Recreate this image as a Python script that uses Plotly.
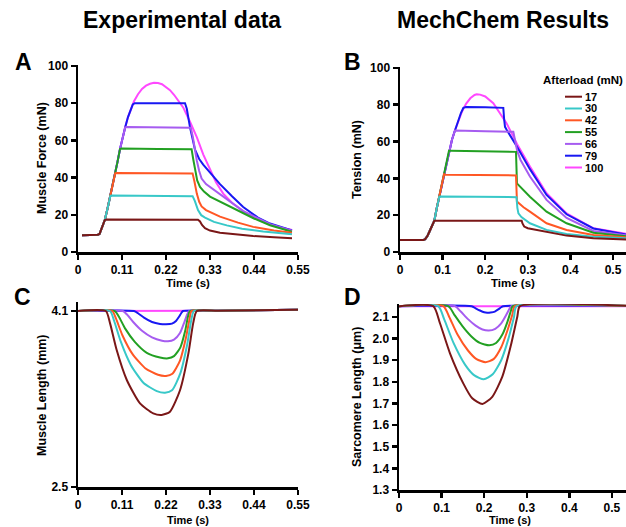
import plotly.graph_objects as go

W, H = 626, 527
FONT = "Liberation Sans, Arial, Helvetica, sans-serif"

AFTERLOADS = ["17", "30", "42", "55", "66", "79", "100"]
COLORS = ["#7a1717", "#38c8c8", "#ff5724", "#22a022", "#a65cf0", "#1818f2", "#ff48ff"]

# ---------------- Panel A: experimental muscle force (mN) ----------------
A_17_t = [0.01, 0.03, 0.05, 0.054, 0.058, 0.062, 0.067, 0.071, 0.15, 0.25, 0.300, 0.305, 0.31, 0.3175, 0.33, 0.355, 0.40, 0.438, 0.49, 0.535]
A_17_y = [9.0, 9.0, 9.3, 9.8, 12.0, 14.5, 17.2, 17.4, 17.4, 17.4, 17.3, 16.4, 14.5, 12.8, 11.5, 10.3, 9.2, 8.6, 7.9, 7.4]
A_30_t = [0.01, 0.03, 0.05, 0.054, 0.058, 0.062, 0.067, 0.074, 0.081, 0.085, 0.2, 0.2865, 0.292, 0.3, 0.308, 0.3175, 0.34, 0.372, 0.41, 0.463, 0.535]
A_30_y = [9.0, 9.0, 9.3, 9.8, 12.0, 14.5, 17.2, 23.5, 30.2, 30.4, 30.3, 30.0, 27.5, 22.5, 19.8, 18.5, 16.2, 14.3, 12.5, 11.0, 9.5]
A_42_t = [0.01, 0.03, 0.05, 0.054, 0.058, 0.062, 0.067, 0.074, 0.081, 0.087, 0.093, 0.097, 0.2, 0.2865, 0.291, 0.297, 0.303, 0.309, 0.32, 0.355, 0.40, 0.438, 0.49, 0.535]
A_42_y = [9.0, 9.0, 9.3, 9.8, 12.0, 14.5, 17.2, 23.5, 30.2, 36.2, 42.3, 42.5, 42.4, 42.2, 38.0, 31.4, 27.0, 24.5, 22.5, 19.0, 15.8, 13.5, 11.6, 10.3]
A_55_t = [0.01, 0.03, 0.05, 0.054, 0.058, 0.062, 0.067, 0.074, 0.081, 0.087, 0.093, 0.099, 0.105, 0.109, 0.2, 0.284, 0.288, 0.2925, 0.298, 0.305, 0.315, 0.33, 0.36, 0.397, 0.44, 0.48, 0.535]
A_55_y = [9.0, 9.0, 9.3, 9.8, 12.0, 14.5, 17.2, 23.5, 30.2, 36.2, 42.3, 48.7, 55.3, 55.6, 55.4, 55.2, 50.0, 44.0, 38.5, 35.0, 32.5, 29.8, 26.5, 22.5, 18.0, 14.4, 10.9]
A_66_t = [0.01, 0.03, 0.05, 0.054, 0.058, 0.062, 0.067, 0.074, 0.081, 0.087, 0.093, 0.099, 0.105, 0.111, 0.118, 0.123, 0.2, 0.282, 0.287, 0.292, 0.297, 0.303, 0.309, 0.32, 0.355, 0.413, 0.48, 0.535]
A_66_y = [9.0, 9.0, 9.3, 9.8, 12.0, 14.5, 17.2, 23.5, 30.2, 36.2, 42.3, 48.7, 55.3, 61.3, 67.0, 67.2, 67.0, 66.8, 62.0, 55.0, 49.2, 43.5, 39.5, 36.5, 31.0, 22.0, 15.0, 11.4]
A_79_t = [0.01, 0.03, 0.05, 0.054, 0.058, 0.062, 0.067, 0.074, 0.081, 0.087, 0.093, 0.099, 0.105, 0.111, 0.118, 0.125, 0.132, 0.137, 0.142, 0.2, 0.2675, 0.272, 0.28, 0.2925, 0.303, 0.313, 0.33, 0.355, 0.385, 0.413, 0.45, 0.48, 0.535]
A_79_y = [9.0, 9.0, 9.3, 9.8, 12.0, 14.5, 17.2, 23.5, 30.2, 36.2, 42.3, 48.7, 55.3, 61.3, 67.0, 72.5, 77.0, 79.3, 80.0, 80.0, 80.0, 77.0, 67.0, 55.0, 50.0, 47.0, 42.5, 36.5, 30.0, 24.2, 18.5, 15.3, 11.6]
A_100_t = [0.01, 0.03, 0.05, 0.054, 0.058, 0.062, 0.067, 0.074, 0.081, 0.087, 0.093, 0.099, 0.105, 0.111, 0.118, 0.125, 0.132, 0.14, 0.15, 0.16, 0.17, 0.18, 0.19, 0.2, 0.21, 0.22, 0.23, 0.24, 0.25, 0.263, 0.28, 0.297, 0.313, 0.33, 0.345, 0.363, 0.385, 0.413, 0.44, 0.463, 0.5, 0.535]
A_100_y = [9.0, 9.0, 9.3, 9.8, 12.0, 14.5, 17.2, 23.5, 30.2, 36.2, 42.3, 48.7, 55.3, 61.3, 67.0, 72.5, 77.0, 81.0, 84.8, 87.6, 89.4, 90.4, 90.9, 90.8, 90.2, 88.8, 87.0, 84.5, 81.5, 77.7, 70.0, 61.7, 52.5, 44.0, 37.5, 31.4, 26.5, 22.0, 18.8, 16.2, 13.5, 11.8]

# ---------------- Panel B: MechChem tension (mN) ----------------
B_17_t = [0, 0.03, 0.055, 0.059, 0.064, 0.069, 0.075, 0.0806, 0.084, 0.2, 0.2856, 0.2875, 0.2915, 0.3, 0.344, 0.391, 0.454, 0.532]
B_17_y = [6.5, 6.5, 6.5, 7.0, 8.5, 11.0, 14.0, 17.0, 17.0, 17.0, 17.0, 15.5, 13.8, 12.9, 10.9, 8.9, 7.5, 6.8]
B_30_t = [0, 0.03, 0.055, 0.059, 0.064, 0.069, 0.075, 0.0806, 0.086, 0.0923, 0.096, 0.2, 0.2735, 0.2755, 0.278, 0.285, 0.305, 0.344, 0.391, 0.454, 0.532]
B_30_y = [6.5, 6.5, 6.5, 7.0, 8.5, 11.0, 14.0, 17.0, 23.5, 30.0, 30.1, 29.9, 29.8, 24.0, 21.0, 19.0, 15.6, 12.0, 9.8, 8.3, 7.5]
B_42_t = [0, 0.03, 0.055, 0.059, 0.064, 0.069, 0.075, 0.0806, 0.086, 0.0923, 0.098, 0.1033, 0.107, 0.2, 0.2723, 0.2745, 0.29, 0.305, 0.344, 0.391, 0.454, 0.532]
B_42_y = [6.5, 6.5, 6.5, 7.0, 8.5, 11.0, 14.0, 17.0, 23.5, 30.0, 36.0, 42.2, 42.0, 41.7, 41.6, 27.4, 24.3, 21.9, 15.6, 12.0, 9.2, 8.0]
B_55_t = [0, 0.03, 0.055, 0.059, 0.064, 0.069, 0.075, 0.0806, 0.086, 0.0923, 0.098, 0.1033, 0.109, 0.115, 0.119, 0.2, 0.2723, 0.2745, 0.29, 0.305, 0.344, 0.391, 0.454, 0.532]
B_55_y = [6.5, 6.5, 6.5, 7.0, 8.5, 11.0, 14.0, 17.0, 23.5, 30.0, 36.0, 42.2, 48.5, 55.0, 55.0, 54.6, 54.4, 37.3, 33.5, 30.0, 21.9, 15.6, 10.5, 8.5]
B_66_t = [0, 0.03, 0.055, 0.059, 0.064, 0.069, 0.075, 0.0806, 0.086, 0.0923, 0.098, 0.1033, 0.109, 0.115, 0.122, 0.129, 0.133, 0.2, 0.266, 0.27, 0.275, 0.283, 0.305, 0.344, 0.391, 0.454, 0.532]
B_66_y = [6.5, 6.5, 6.5, 7.0, 8.5, 11.0, 14.0, 17.0, 23.5, 30.0, 36.0, 42.2, 48.5, 55.0, 61.0, 66.0, 66.0, 65.6, 65.3, 61.0, 55.0, 50.0, 41.0, 28.3, 18.5, 11.4, 9.0]
B_79_t = [0, 0.03, 0.055, 0.059, 0.064, 0.069, 0.075, 0.0806, 0.086, 0.0923, 0.098, 0.1033, 0.109, 0.115, 0.122, 0.129, 0.137, 0.143, 0.1487, 0.155, 0.2, 0.2425, 0.2445, 0.2465, 0.25, 0.274, 0.305, 0.344, 0.391, 0.454, 0.532]
B_79_y = [6.5, 6.5, 6.5, 7.0, 8.5, 11.0, 14.0, 17.0, 23.5, 30.0, 36.0, 42.2, 48.5, 55.0, 61.0, 66.0, 71.5, 75.5, 78.3, 78.8, 78.6, 78.3, 72.0, 68.0, 66.5, 57.5, 45.0, 31.0, 20.5, 12.8, 9.5]
B_100_t = [0, 0.03, 0.055, 0.059, 0.064, 0.069, 0.075, 0.0806, 0.086, 0.0923, 0.098, 0.1033, 0.109, 0.115, 0.122, 0.129, 0.137, 0.145, 0.155, 0.165, 0.175, 0.18, 0.188, 0.2, 0.219, 0.235, 0.25, 0.274, 0.305, 0.344, 0.391, 0.454, 0.532]
B_100_y = [6.5, 6.5, 6.5, 7.0, 8.5, 11.0, 14.0, 17.0, 23.5, 30.0, 36.0, 42.2, 48.5, 55.0, 61.0, 66.0, 71.5, 76.0, 80.5, 83.5, 85.3, 85.7, 85.5, 84.5, 80.8, 75.5, 70.0, 59.0, 46.4, 31.9, 21.0, 12.9, 9.8]

# ---------------- Panel C: experimental muscle length (mm) ----------------
C_17_t = [0, 0.0695, 0.08, 0.0967, 0.122, 0.155, 0.188, 0.209, 0.23, 0.255, 0.276, 0.288, 0.297, 0.35, 0.55]
C_17_y = [4.1, 4.1, 3.99, 3.745, 3.473, 3.26, 3.17, 3.155, 3.185, 3.38, 3.715, 3.99, 4.1, 4.102, 4.112]
C_30_t = [0, 0.08, 0.09, 0.107, 0.132, 0.164, 0.197, 0.2175, 0.235, 0.256, 0.273, 0.283, 0.29, 0.35, 0.55]
C_30_y = [4.1, 4.1, 4.014, 3.821, 3.61, 3.446, 3.372, 3.357, 3.379, 3.535, 3.795, 4.014, 4.1, 4.102, 4.112]
C_42_t = [0, 0.0855, 0.095, 0.111, 0.136, 0.168, 0.2, 0.22, 0.236, 0.255, 0.27, 0.279, 0.284, 0.35, 0.55]
C_42_y = [4.1, 4.1, 4.03, 3.88, 3.71, 3.58, 3.52, 3.51, 3.53, 3.65, 3.86, 4.03, 4.1, 4.102, 4.112]
C_55_t = [0, 0.092, 0.102, 0.118, 0.142, 0.172, 0.205, 0.225, 0.24, 0.256, 0.268, 0.275, 0.28, 0.35, 0.55]
C_55_y = [4.1, 4.1, 4.05, 3.94, 3.82, 3.72, 3.678, 3.67, 3.69, 3.77, 3.92, 4.05, 4.1, 4.102, 4.112]
C_66_t = [0, 0.112, 0.122, 0.138, 0.16, 0.185, 0.21, 0.225, 0.24, 0.255, 0.266, 0.273, 0.278, 0.35, 0.55]
C_66_y = [4.1, 4.1, 4.07, 4.0, 3.92, 3.86, 3.83, 3.825, 3.84, 3.9, 4.0, 4.07, 4.1, 4.102, 4.112]
C_79_t = [0, 0.14, 0.15, 0.165, 0.185, 0.205, 0.22, 0.235, 0.245, 0.253, 0.258, 0.2625, 0.35, 0.55]
C_79_y = [4.1, 4.1, 4.08, 4.04, 4.0, 3.983, 3.98, 3.985, 4.01, 4.05, 4.08, 4.1, 4.102, 4.112]
C_100_t = [0, 0.35, 0.55]
C_100_y = [4.1, 4.102, 4.112]

# ---------------- Panel D: MechChem sarcomere length (um) ----------------
D_17_t = [0, 0.0805, 0.0962, 0.1197, 0.1509, 0.172, 0.196, 0.219, 0.2426, 0.262, 0.2778, 0.284, 0.55]
D_17_y = [2.15, 2.15, 2.071, 1.932, 1.793, 1.724, 1.698, 1.731, 1.824, 1.963, 2.101, 2.15, 2.15]
D_30_t = [0, 0.092, 0.106, 0.128, 0.155, 0.177, 0.199, 0.22, 0.24, 0.257, 0.27, 0.276, 0.55]
D_30_y = [2.15, 2.15, 2.09, 1.98, 1.88, 1.83, 1.812, 1.835, 1.9, 2.0, 2.1, 2.15, 2.15]
D_42_t = [0, 0.104, 0.118, 0.137, 0.162, 0.182, 0.203, 0.222, 0.24, 0.255, 0.266, 0.272, 0.55]
D_42_y = [2.15, 2.15, 2.1, 2.02, 1.945, 1.905, 1.891, 1.905, 1.96, 2.04, 2.11, 2.15, 2.15]
D_55_t = [0, 0.1157, 0.13, 0.148, 0.17, 0.19, 0.212, 0.228, 0.243, 0.255, 0.263, 0.267, 0.55]
D_55_y = [2.15, 2.15, 2.11, 2.06, 2.01, 1.98, 1.969, 1.98, 2.02, 2.08, 2.13, 2.15, 2.15]
D_66_t = [0, 0.1315, 0.145, 0.162, 0.18, 0.196, 0.211, 0.226, 0.24, 0.252, 0.26, 0.264, 0.55]
D_66_y = [2.15, 2.15, 2.125, 2.09, 2.06, 2.042, 2.037, 2.045, 2.07, 2.11, 2.14, 2.15, 2.15]
D_79_t = [0, 0.1706, 0.18, 0.19, 0.2, 0.207, 0.215, 0.225, 0.233, 0.24, 0.2445, 0.55]
D_79_y = [2.15, 2.15, 2.14, 2.13, 2.122, 2.12, 2.121, 2.125, 2.135, 2.145, 2.15, 2.15]
D_100_t = [0, 0.55]
D_100_y = [2.15, 2.15]

# ---------------- Tick labels ----------------
EXP_X_TICKS = [0, 0.11, 0.22, 0.33, 0.44, 0.55]
EXP_X_LABELS = ["0", "0.11", "0.22", "0.33", "0.44", "0.55"]
SIM_X_TICKS = [0, 0.1, 0.2, 0.3, 0.4, 0.5]
SIM_X_LABELS = ["0", "0.1", "0.2", "0.3", "0.4", "0.5"]
FORCE_TICKS = [0, 20, 40, 60, 80, 100]
C_Y_TICKS = [2.5, 4.1]
D_Y_TICKS = [1.3, 1.4, 1.5, 1.6, 1.7, 1.8, 1.9, 2.0, 2.1]

PANELS = [
    ("x", "y", [A_17_t, A_30_t, A_42_t, A_55_t, A_66_t, A_79_t, A_100_t],
     [A_17_y, A_30_y, A_42_y, A_55_y, A_66_y, A_79_y, A_100_y], "linear"),
    ("x2", "y2", [B_17_t, B_30_t, B_42_t, B_55_t, B_66_t, B_79_t, B_100_t],
     [B_17_y, B_30_y, B_42_y, B_55_y, B_66_y, B_79_y, B_100_y], "linear"),
    ("x3", "y3", [C_17_t, C_30_t, C_42_t, C_55_t, C_66_t, C_79_t, C_100_t],
     [C_17_y, C_30_y, C_42_y, C_55_y, C_66_y, C_79_y, C_100_y], "spline"),
    ("x4", "y4", [D_17_t, D_30_t, D_42_t, D_55_t, D_66_t, D_79_t, D_100_t],
     [D_17_y, D_30_y, D_42_y, D_55_y, D_66_y, D_79_y, D_100_y], "spline"),
]

fig = go.Figure()
for xa, ya, ts, ys, shape in PANELS:
    for i in reversed(range(len(AFTERLOADS))):
        fig.add_trace(go.Scatter(
            x=ts[i], y=ys[i], mode="lines", xaxis=xa, yaxis=ya,
            name=AFTERLOADS[i], showlegend=False,
            line=dict(color=COLORS[i], width=2, shape=shape, smoothing=0.6),
        ))


def px(v):
    return v / W


def py(v):
    return 1 - v / H


tickfont = dict(family=FONT, size=12, color="black", weight="bold")
axis_common = dict(showline=True, linecolor="black", linewidth=2.5, ticks="outside",
                   ticklen=5, tickwidth=2.5, tickcolor="black", showgrid=False,
                   zeroline=False, tickfont=tickfont, fixedrange=True,
                   automargin=False)

fig.update_layout(
    width=W, height=H, margin=dict(l=0, r=0, t=0, b=0, autoexpand=False),
    paper_bgcolor="white", plot_bgcolor="white", showlegend=False,
    xaxis=dict(domain=[px(78), px(298)], range=[0, 0.55], tickvals=EXP_X_TICKS,
               ticktext=EXP_X_LABELS, anchor="y", **axis_common),
    yaxis=dict(domain=[py(252), py(65)], range=[0, 100.5], tickvals=FORCE_TICKS,
               anchor="x", **axis_common),
    xaxis2=dict(domain=[px(400), 1.0], range=[0, 0.5305], tickvals=SIM_X_TICKS,
                ticktext=SIM_X_LABELS, anchor="y2", **axis_common),
    yaxis2=dict(domain=[py(252), py(67)], range=[0, 100.5], tickvals=FORCE_TICKS,
                anchor="x2", **axis_common),
    xaxis3=dict(domain=[px(78), px(298)], range=[0, 0.55], tickvals=EXP_X_TICKS,
                ticktext=EXP_X_LABELS, anchor="y3", **axis_common),
    yaxis3=dict(domain=[py(487), py(302)], range=[2.5, 4.182], tickvals=C_Y_TICKS,
                tickformat=".1f", anchor="x3", **axis_common),
    xaxis4=dict(domain=[px(399), 1.0], range=[0, 0.533], tickvals=SIM_X_TICKS,
                ticktext=SIM_X_LABELS, anchor="y4", **axis_common),
    yaxis4=dict(domain=[py(490), py(304)], range=[1.3, 2.16], tickvals=D_Y_TICKS,
                tickformat=".1f", anchor="x4", **axis_common),
)

ann = []


def text(x, y, s, size, xanchor="center", angle=0):
    ann.append(dict(x=px(x), y=py(y), xref="paper", yref="paper", text=s,
                    showarrow=False, xanchor=xanchor, yanchor="middle",
                    textangle=angle, borderpad=0,
                    font=dict(family=FONT, size=size, color="black", weight="bold")))


# Column titles
text(282, 20, "Experimental data", 23, xanchor="right")
text(610, 20, "MechChem Results", 23, xanchor="right")
# Panel letters
text(23, 62, "A", 23)
text(352, 62, "B", 23)
text(22, 297, "C", 23)
text(352, 297, "D", 23)
# Axis titles
text(42, 158, "Muscle Force (mN)", 12.5, angle=-90)
text(357, 160, "Tension (mN)", 12.5, angle=-90)
text(42, 395, "Muscle Length (mm)", 12.5, angle=-90)
text(357, 397, "Sarcomere Length (μm)", 12.5, angle=-90)
text(188, 283, "Time (s)", 11.5)
text(513, 283, "Time (s)", 11.5)
text(188, 520, "Time (s)", 11)
text(510, 520, "Time (s)", 11)

# Legend (compact, drawn manually)
text(542, 80, "Afterload (mN)", 11.5, xanchor="left")
LEG_Y = [96.7, 108.5, 120.3, 132.1, 143.9, 155.7, 167.5]
shapes = []
for i, lab in enumerate(AFTERLOADS):
    text(584, LEG_Y[i], lab, 11, xanchor="left")
    shapes.append(dict(type="line", xref="paper", yref="paper",
                       x0=px(565), x1=px(582), y0=py(LEG_Y[i]), y1=py(LEG_Y[i]),
                       line=dict(color=COLORS[i], width=2)))

fig.update_layout(annotations=ann, shapes=shapes)
fig.write_html(
    "out.html",
    config={"displayModeBar": False, "staticPlot": True},
    post_script="document.body.style.margin='0';document.body.style.overflow='hidden';",
)
